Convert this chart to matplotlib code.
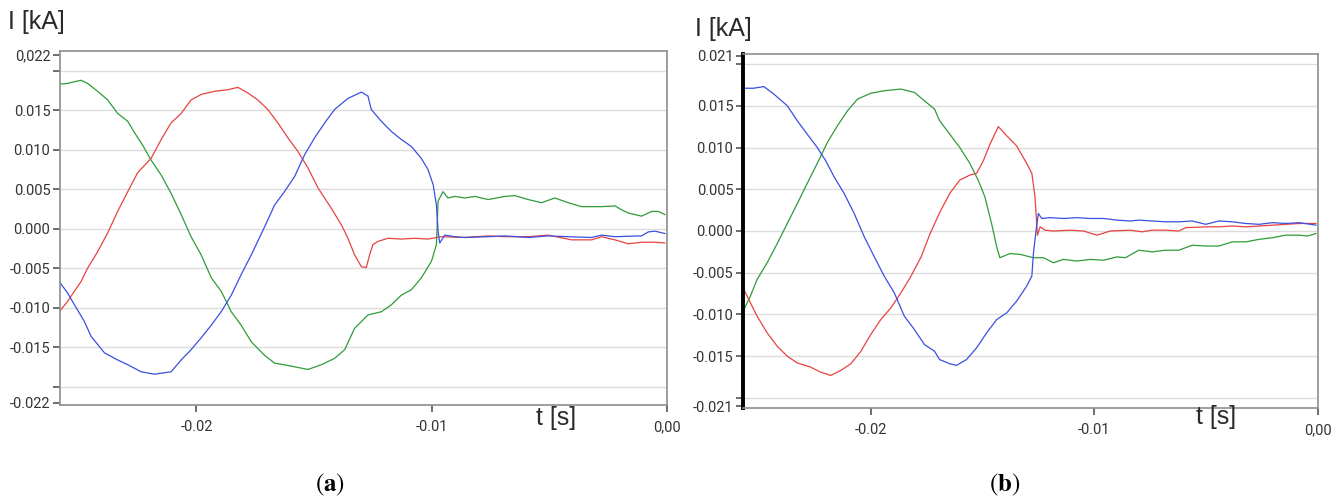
import numpy as np
import matplotlib
matplotlib.use("Agg")
import matplotlib.pyplot as plt

# ---- data (time in s, current in kA) ----
# panel (a)
a_green_t = [-0.02583, -0.02548, -0.02491, -0.02463, -0.02420, -0.02377, -0.02335, -0.02292,
             -0.02264, -0.02229, -0.02193, -0.02150, -0.02108, -0.02065, -0.02023, -0.01980,
             -0.01937, -0.01895, -0.01852, -0.01810, -0.01767, -0.01711, -0.01668, -0.01611,
             -0.01526, -0.01469, -0.01413, -0.01370, -0.01328, -0.01271, -0.01214, -0.01171,
             -0.01129, -0.01086, -0.01044, -0.01001, -0.00980, -0.00973, -0.00952, -0.00931,
             -0.00902, -0.00860, -0.00817, -0.00760, -0.00689, -0.00647, -0.00590, -0.00533,
             -0.00477, -0.00420, -0.00363, -0.00278, -0.00221, -0.00193, -0.00165, -0.00108,
             -0.00065, -0.00037, -0.00009]
a_green_i = [0.0183, 0.0184, 0.0188, 0.0184, 0.0174, 0.0163, 0.0146, 0.0136,
             0.0122, 0.0106, 0.0087, 0.0068, 0.0045, 0.0018, -0.0010, -0.0033,
             -0.0062, -0.0079, -0.0105, -0.0122, -0.0143, -0.0160, -0.0170, -0.0173,
             -0.0178, -0.0172, -0.0164, -0.0153, -0.0126, -0.0109, -0.0105, -0.0096,
             -0.0084, -0.0077, -0.0062, -0.0041, -0.0020, 0.0035, 0.0047, 0.0039,
             0.0041, 0.0039, 0.0041, 0.0037, 0.0041, 0.0042, 0.0037, 0.0033,
             0.0039, 0.0033, 0.0028, 0.0028, 0.0029, 0.0024, 0.0020, 0.0016,
             0.0022, 0.0022, 0.0018]

a_red_t = [-0.02583, -0.02548, -0.02519, -0.02491, -0.02463, -0.02420, -0.02377, -0.02335,
           -0.02292, -0.02250, -0.02193, -0.02150, -0.02108, -0.02065, -0.02023, -0.01980,
           -0.01923, -0.01867, -0.01824, -0.01782, -0.01739, -0.01697, -0.01654, -0.01611,
           -0.01569, -0.01526, -0.01484, -0.01427, -0.01384, -0.01356, -0.01328, -0.01299,
           -0.01278, -0.01264, -0.01250, -0.01229, -0.01186, -0.01129, -0.01072, -0.01016,
           -0.00959, -0.00860, -0.00760, -0.00689, -0.00590, -0.00505, -0.00406, -0.00320,
           -0.00278, -0.00221, -0.00165, -0.00108, -0.00051, -0.00009]
a_red_i = [-0.0105, -0.0092, -0.0079, -0.0067, -0.0050, -0.0029, -0.0005, 0.0022,
           0.0047, 0.0071, 0.0089, 0.0113, 0.0134, 0.0146, 0.0163, 0.0170,
           0.0174, 0.0176, 0.0179, 0.0172, 0.0163, 0.0151, 0.0134, 0.0115,
           0.0098, 0.0077, 0.0052, 0.0026, 0.0005, -0.0012, -0.0033, -0.0048,
           -0.0049, -0.0033, -0.0020, -0.0016, -0.0012, -0.0013, -0.0012, -0.0013,
           -0.0010, -0.0011, -0.0009, -0.0010, -0.0010, -0.0008, -0.0014, -0.0014,
           -0.0010, -0.0014, -0.0019, -0.0017, -0.0017, -0.0018]

a_blue_t = [-0.02583, -0.02548, -0.02519, -0.02477, -0.02448, -0.02391, -0.02335, -0.02292,
            -0.02235, -0.02179, -0.02108, -0.02065, -0.02023, -0.01980, -0.01937, -0.01895,
            -0.01852, -0.01810, -0.01767, -0.01711, -0.01668, -0.01626, -0.01583, -0.01540,
            -0.01498, -0.01455, -0.01413, -0.01356, -0.01299, -0.01271, -0.01257, -0.01214,
            -0.01171, -0.01129, -0.01086, -0.01044, -0.01016, -0.00994, -0.00980, -0.00973,
            -0.00966, -0.00945, -0.00902, -0.00860, -0.00760, -0.00689, -0.00590, -0.00505,
            -0.00420, -0.00320, -0.00278, -0.00221, -0.00108, -0.00080, -0.00051, -0.00009]
a_blue_i = [-0.0067, -0.0081, -0.0096, -0.0117, -0.0136, -0.0157, -0.0166, -0.0172,
            -0.0181, -0.0184, -0.0181, -0.0166, -0.0153, -0.0138, -0.0122, -0.0105,
            -0.0084, -0.0058, -0.0033, 0.0002, 0.0030, 0.0047, 0.0066, 0.0094,
            0.0115, 0.0134, 0.0151, 0.0165, 0.0173, 0.0168, 0.0151, 0.0136,
            0.0123, 0.0113, 0.0104, 0.0089, 0.0075, 0.0056, 0.0030, -0.0003,
            -0.0018, -0.0008, -0.0010, -0.0011, -0.0010, -0.0009, -0.0011, -0.0009,
            -0.0010, -0.0011, -0.0008, -0.0010, -0.0009, -0.0004, -0.0003, -0.0006]

# panel (b)
b_blue_t = [-0.02566, -0.02522, -0.02477, -0.02432, -0.02372, -0.02327, -0.02283, -0.02238,
            -0.02200, -0.02163, -0.02118, -0.02073, -0.02028, -0.01983, -0.01939, -0.01894,
            -0.01849, -0.01804, -0.01759, -0.01714, -0.01691, -0.01646, -0.01616, -0.01571,
            -0.01526, -0.01481, -0.01436, -0.01391, -0.01347, -0.01302, -0.01279, -0.01272,
            -0.01260, -0.01250, -0.01235, -0.01197, -0.01138, -0.01078, -0.01018, -0.00958,
            -0.00898, -0.00839, -0.00801, -0.00741, -0.00682, -0.00622, -0.00562, -0.00502,
            -0.00443, -0.00383, -0.00323, -0.00263, -0.00203, -0.00144, -0.00084, -0.00009]
b_blue_i = [0.0171, 0.0171, 0.0173, 0.0164, 0.0150, 0.0132, 0.0116, 0.0100,
            0.0084, 0.0065, 0.0045, 0.0021, -0.0007, -0.0031, -0.0054, -0.0074,
            -0.0102, -0.0118, -0.0136, -0.0144, -0.0154, -0.0159, -0.0161, -0.0154,
            -0.0140, -0.0122, -0.0106, -0.0098, -0.0084, -0.0066, -0.0054, -0.0027,
            0.0001, 0.0021, 0.0015, 0.0016, 0.0015, 0.0016, 0.0015, 0.0015,
            0.0013, 0.0012, 0.0013, 0.0012, 0.0011, 0.0011, 0.0012, 0.0008,
            0.0012, 0.0011, 0.0009, 0.0008, 0.0010, 0.0009, 0.0010, 0.0007]

b_green_t = [-0.02566, -0.02537, -0.02507, -0.02462, -0.02417, -0.02372, -0.02327, -0.02283,
             -0.02238, -0.02193, -0.02148, -0.02103, -0.02058, -0.01999, -0.01939, -0.01864,
             -0.01804, -0.01759, -0.01714, -0.01691, -0.01646, -0.01601, -0.01556, -0.01519,
             -0.01489, -0.01459, -0.01436, -0.01422, -0.01377, -0.01332, -0.01272, -0.01227,
             -0.01182, -0.01138, -0.01078, -0.01018, -0.00958, -0.00898, -0.00861, -0.00801,
             -0.00741, -0.00682, -0.00622, -0.00562, -0.00502, -0.00443, -0.00383, -0.00323,
             -0.00263, -0.00203, -0.00144, -0.00084, -0.00046, -0.00009]
b_green_i = [-0.0094, -0.0078, -0.0058, -0.0038, -0.0015, 0.0009, 0.0033, 0.0057,
             0.0081, 0.0106, 0.0126, 0.0144, 0.0158, 0.0165, 0.0168, 0.0170,
             0.0166, 0.0156, 0.0146, 0.0132, 0.0116, 0.0100, 0.0081, 0.0061,
             0.0041, 0.0009, -0.0019, -0.0032, -0.0027, -0.0028, -0.0032, -0.0032,
             -0.0038, -0.0034, -0.0036, -0.0034, -0.0035, -0.0031, -0.0032, -0.0023,
             -0.0025, -0.0023, -0.0023, -0.0017, -0.0018, -0.0018, -0.0013, -0.0013,
             -0.0010, -0.0008, -0.0005, -0.0005, -0.0006, -0.0003]

b_red_t = [-0.02566, -0.02537, -0.02507, -0.02462, -0.02417, -0.02372, -0.02327, -0.02268,
           -0.02223, -0.02178, -0.02133, -0.02088, -0.02043, -0.01999, -0.01954, -0.01909,
           -0.01864, -0.01819, -0.01774, -0.01735, -0.01691, -0.01646, -0.01601, -0.01556,
           -0.01526, -0.01496, -0.01466, -0.01429, -0.01391, -0.01347, -0.01302, -0.01279,
           -0.01265, -0.01254, -0.01242, -0.01220, -0.01182, -0.01108, -0.01048, -0.00988,
           -0.00928, -0.00839, -0.00786, -0.00741, -0.00682, -0.00622, -0.00592, -0.00502,
           -0.00443, -0.00383, -0.00323, -0.00263, -0.00203, -0.00144, -0.00084, -0.00009]
b_red_i = [-0.0070, -0.0086, -0.0102, -0.0122, -0.0138, -0.0150, -0.0158, -0.0163,
           -0.0169, -0.0173, -0.0167, -0.0159, -0.0144, -0.0124, -0.0106, -0.0092,
           -0.0074, -0.0054, -0.0031, -0.0004, 0.0022, 0.0045, 0.0061, 0.0067,
           0.0069, 0.0084, 0.0104, 0.0125, 0.0114, 0.0102, 0.0081, 0.0069,
           0.0041, -0.0005, 0.0005, 0.0001, 0.0000, 0.0001, 0.0000, -0.0005,
           0.0000, 0.0001, -0.0001, 0.0001, 0.0001, 0.0000, 0.0004, 0.0005,
           0.0005, 0.0006, 0.0005, 0.0006, 0.0007, 0.0008, 0.0009, 0.0009]

# tick labels as printed on the original scope screenshots
a_yticks = [-0.022, -0.020, -0.015, -0.010, -0.005, 0.0, 0.005, 0.010, 0.015, 0.020, 0.022]
a_ylabels = ["-0.022", "", "-0.015", "-0.010", "-0.005", "0.000", "0.005", "0.010", "0.015", "", "0,022"]
b_yticks = [-0.021, -0.020, -0.015, -0.010, -0.005, 0.0, 0.005, 0.010, 0.015, 0.020, 0.021]
b_ylabels = ["-0.021", "", "-0.015", "-0.010", "-0.005", "0.000", "0.005", "0.010", "0.015", "", "0.021"]
xticks = [-0.02, -0.01, 0.0]
xlabels = ["-0.02", "-0.01", "0,00"]

RED, GREEN, BLUE = "#e8433f", "#2f9b38", "#3a4fe0"
GRID = "#dcdcdc"
TICKFONT = ["Liberation Sans Narrow", "Roboto", "DejaVu Sans"]

W, H = 1337, 501
fig = plt.figure(figsize=(W / 100, H / 100), dpi=100)
plt.rcParams["mathtext.fontset"] = "stix"


def px_axes(l, t, r, b):
    return fig.add_axes([l / W, 1 - b / H, (r - l) / W, (b - t) / H])


def style_axes(ax, yticks, ylabels, thick_left=False):
    ax.set_yticks(yticks)
    ax.set_yticklabels(ylabels)
    ax.set_xticks(xticks)
    ax.set_xticklabels(xlabels)
    for y in yticks:
        if y != 0.0 and abs(y) not in (0.021, 0.022):
            ax.axhline(y, color=GRID, lw=1.0, zorder=0)
    ax.axhline(0.0, color=GRID, lw=1.0, zorder=0)
    for s in ax.spines.values():
        s.set_color("#8e8e8e")
        s.set_linewidth(1.2)
    if thick_left:
        ax.spines["left"].set_color("black")
        ax.spines["left"].set_linewidth(2.8)
    ax.tick_params(axis="y", length=5, width=1.2, color="#555555", pad=2,
                   labelsize=10.5, labelcolor="#333333")
    ax.tick_params(axis="x", length=5, width=1.2, color="#555555", pad=6,
                   labelsize=10.5, labelcolor="#333333")
    for lab in ax.get_xticklabels() + ax.get_yticklabels():
        lab.set_family(TICKFONT)


# panel (a)
ax1 = px_axes(60, 51, 667, 405)
ax1.plot(a_green_t, a_green_i, color=GREEN, lw=0.9)
ax1.plot(a_red_t, a_red_i, color=RED, lw=0.9)
ax1.plot(a_blue_t, a_blue_i, color=BLUE, lw=0.9)
ax1.set_xlim(-0.0258, 0.0)
ax1.set_ylim(-0.0223, 0.0225)
style_axes(ax1, a_yticks, a_ylabels)

# panel (b)
ax2 = px_axes(743, 54, 1318, 408)
ax2.plot(b_green_t, b_green_i, color=GREEN, lw=0.9)
ax2.plot(b_red_t, b_red_i, color=RED, lw=0.9)
ax2.plot(b_blue_t, b_blue_i, color=BLUE, lw=0.9)
ax2.set_xlim(-0.0257, 0.0)
ax2.set_ylim(-0.0212, 0.0212)
style_axes(ax2, b_yticks, b_ylabels, thick_left=True)

# axis titles, placed like in the scope screenshots
lab_kw = dict(family=["Liberation Sans", "DejaVu Sans"], fontsize=18, color="#2a2a2a")
fig.text(8 / W, 1 - 22 / H, "I [kA]", ha="left", va="center", **lab_kw)
fig.text(695 / W, 1 - 29 / H, "I [kA]", ha="left", va="center", **lab_kw)
fig.text(556 / W, 1 - 418 / H, "t [s]", ha="center", va="center", **lab_kw)
fig.text(1216 / W, 1 - 417 / H, "t [s]", ha="center", va="center", **lab_kw)

# subfigure captions
cap_kw = dict(family="STIXGeneral", fontsize=18, color="black", ha="center", va="center")
fig.text(330 / W, 1 - 485 / H, r"($\mathbf{a}$)", **cap_kw)
fig.text(1005 / W, 1 - 485 / H, r"($\mathbf{b}$)", **cap_kw)

fig.savefig("out.png", dpi=100, facecolor="white")
